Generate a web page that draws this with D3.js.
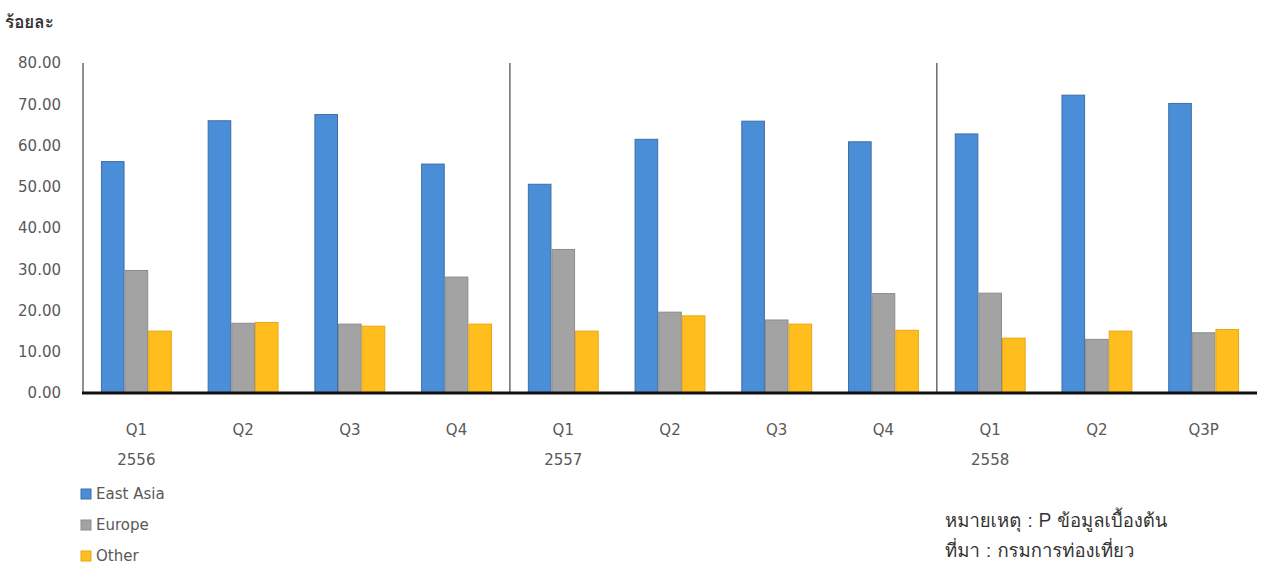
<!DOCTYPE html>
<html>
<head>
<meta charset="utf-8">
<script src="https://cdn.jsdelivr.net/npm/d3@7"></script>
<style>
  html, body { margin: 0; padding: 0; background: #ffffff; }
  svg { display: block; }
</style>
</head>
<body>
<svg id="chart" width="1261" height="570"></svg>
<script>
// ---- data ----
const quarters = ["Q1", "Q2", "Q3", "Q4", "Q1", "Q2", "Q3", "Q4", "Q1", "Q2", "Q3P"];
const years = ["2556", "", "", "", "2557", "", "", "", "2558", "", ""];
const seriesNames = ["East Asia", "Europe", "Other"];
const eastAsia = [56.1, 66.0, 67.5, 55.5, 50.6, 61.5, 65.9, 60.9, 62.8, 72.2, 70.2];
const europe   = [29.7, 16.9, 16.7, 28.1, 34.8, 19.6, 17.7, 24.1, 24.2, 13.0, 14.6];
const other    = [15.0, 17.1, 16.2, 16.7, 15.0, 18.7, 16.7, 15.2, 13.3, 15.0, 15.4];
const yTicks = [0, 10, 20, 30, 40, 50, 60, 70, 80];
const yearDividers = [4, 8];
const yTitle = "ร้อยละ";
const noteLines = ["หมายเหตุ : P ข้อมูลเบื้องต้น", "ที่มา : กรมการท่องเที่ยว"];

const seriesValues = [eastAsia, europe, other];
const fills = ["#4a8ed8", "#a3a3a3", "#ffbe1e"];
const strokes = ["#3f6fa6", "#8c8c8c", "#e5a812"];

// ---- layout ----
const svg = d3.select("#chart");
const mLeft = 83, mRight = 1257, mTop = 63, mBottom = 393;
const idx = quarters.map((d, i) => i);

const x = d3.scaleBand().domain(idx).range([mLeft, mRight]).paddingInner(0.336).paddingOuter(0.168);
const xs = d3.scaleBand().domain(d3.range(seriesNames.length)).range([0, x.bandwidth()]);
const y = d3.scaleLinear().domain([0, 80]).range([mBottom, mTop]);

const labelFont = "'DejaVu Sans', Verdana, sans-serif";
const thaiFont = "Loma, Garuda, 'Tlwg Typo', Norasi, 'Noto Sans Thai', 'Noto Sans', 'DejaVu Sans', sans-serif";

// y axis labels
const yAxis = d3.axisLeft(y).tickValues(yTicks).tickFormat(d3.format(".2f")).tickSize(0).tickPadding(0);
const gy = svg.append("g").attr("transform", `translate(${mLeft - 22},0)`).call(yAxis);
gy.select(".domain").remove();
gy.selectAll("text").attr("font-family", labelFont).attr("font-size", 15).attr("fill", "#595959");

// left axis line
svg.append("line").attr("x1", mLeft).attr("x2", mLeft).attr("y1", y(80)).attr("y2", mBottom)
  .attr("stroke", "#6b6b6b").attr("stroke-width", 1.5);

// year dividers
const gap = x.step() - x.bandwidth();
svg.append("g").selectAll("line").data(yearDividers).join("line")
  .attr("x1", i => x(i) - gap / 2).attr("x2", i => x(i) - gap / 2)
  .attr("y1", y(80)).attr("y2", mBottom)
  .attr("stroke", "#555555").attr("stroke-width", 1.3);

// bars
seriesValues.forEach((vals, s) => {
  svg.append("g").selectAll("rect").data(vals).join("rect")
    .attr("x", (d, i) => x(i) + xs(s) + 0.5)
    .attr("y", d => y(d))
    .attr("width", xs.bandwidth() - 1)
    .attr("height", d => mBottom - y(d))
    .attr("fill", fills[s])
    .attr("stroke", strokes[s])
    .attr("stroke-width", 1);
});

// baseline
svg.append("line").attr("x1", mLeft - 1).attr("x2", mRight).attr("y1", mBottom).attr("y2", mBottom)
  .attr("stroke", "#111111").attr("stroke-width", 3);

// x axis labels
const xAxis = d3.axisBottom(x).tickFormat(i => quarters[i]).tickSize(0).tickPadding(0);
const gx = svg.append("g").attr("transform", `translate(0,${mBottom + 37})`).call(xAxis);
gx.select(".domain").remove();
gx.selectAll("text").attr("font-family", labelFont).attr("font-size", 15).attr("fill", "#595959").attr("dy", "0.32em").attr("y", 0);

svg.append("g").selectAll("text").data(idx.filter(i => years[i] !== "")).join("text")
  .attr("x", i => x(i) + x.bandwidth() / 2)
  .attr("y", mBottom + 67)
  .attr("dy", "0.32em")
  .attr("text-anchor", "middle")
  .attr("font-family", labelFont).attr("font-size", 15).attr("fill", "#595959")
  .text(i => years[i]);

// y title
svg.append("text").attr("x", 5).attr("y", 28)
  .attr("font-family", thaiFont).attr("font-size", 17).attr("font-weight", "bold").attr("fill", "#333333")
  .text(yTitle);

// legend
const lg = svg.append("g").selectAll("g").data(seriesNames).join("g")
  .attr("transform", (d, i) => `translate(81,${494 + i * 31})`);
lg.append("rect").attr("x", 0).attr("y", -5).attr("width", 10).attr("height", 10)
  .attr("fill", (d, i) => fills[i]).attr("stroke", (d, i) => strokes[i]);
lg.append("text").attr("x", 15).attr("y", 0).attr("dy", "0.35em")
  .attr("font-family", labelFont).attr("font-size", 15).attr("fill", "#595959")
  .text(d => d);

// notes
svg.append("g").selectAll("text").data(noteLines).join("text")
  .attr("x", 945).attr("y", (d, i) => 527 + i * 30)
  .attr("font-family", thaiFont).attr("font-size", 18.5).attr("fill", "#333333")
  .text(d => d);
</script>
</body>
</html>
